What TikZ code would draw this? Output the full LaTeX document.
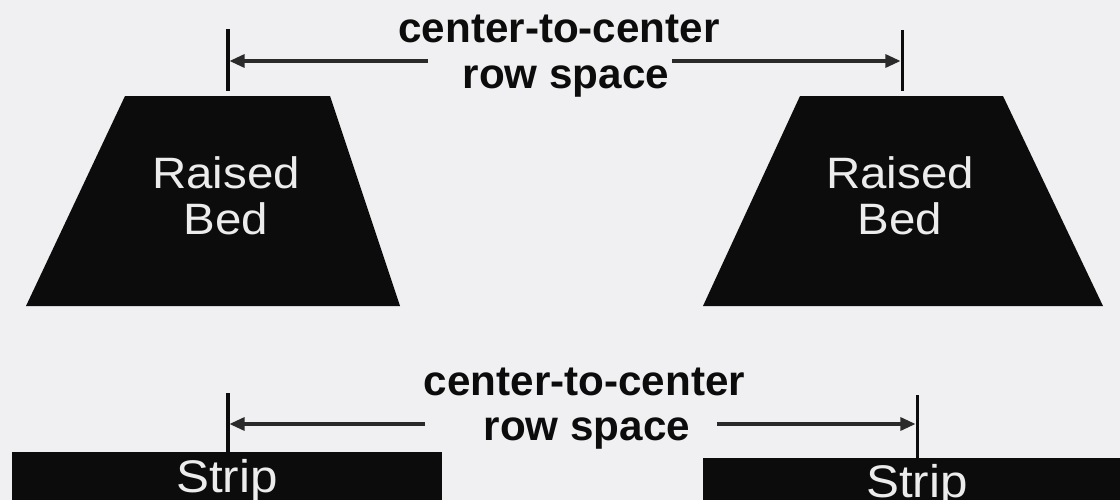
\documentclass[tikz,border=0pt]{standalone}
\usepackage{fontspec}
\setmainfont{Liberation Sans}
\newfontfamily\widesans[FakeStretch=1.08]{Liberation Sans}
\usetikzlibrary{arrows.meta}
\definecolor{bg}{HTML}{F0F0F2}
\definecolor{ink}{HTML}{0C0C0C}
\definecolor{wtext}{HTML}{ECECEC}
\definecolor{arrowc}{HTML}{2A2A2A}
\begin{document}
\begin{tikzpicture}[x=0.01cm,y=-0.01cm,
  bedshape/.style={fill=ink},
  lbl/.style={font=\fontsize{12}{14}\selectfont\bfseries, text=ink, anchor=base, inner sep=0},
  intext/.style={font=\widesans\fontsize{12.5}{14}\selectfont, text=wtext, anchor=base, inner sep=0},
  striptext/.style={font=\widesans\fontsize{13}{14}\selectfont, text=wtext, anchor=base, inner sep=0},
  tick/.style={draw=ink, line width=0.03cm},
  dimarrow/.style={draw=arrowc, line width=0.03cm, -{Triangle[length=0.15cm,width=0.13cm]}}]
\fill[bg] (0,0) rectangle (1120,500);
\useasboundingbox (0,0) rectangle (1120,500);
% raised beds
\fill[bedshape] (125,96) -- (330,96) -- (400,306) -- (26,306) -- cycle;
\fill[bedshape] (800,96) -- (1003,96) -- (1103,306) -- (703,306) -- cycle;
\node[intext] (r1a) at (226,189) {Raised};
\node[intext] (r1b) at (226,235) {Bed};
\node[intext] (r2a) at (900,189) {Raised};
\node[intext] (r2b) at (900,235) {Bed};
% top dimension
\coordinate (t1top) at (228,29);
\coordinate (t1bot) at (228,91);
\coordinate (t2top) at (902,30);
\coordinate (t2bot) at (902,91);
\draw[tick] (t1top) -- (t1bot);
\draw[tick] (t2top) -- (t2bot);
\coordinate (a1s) at (428,61);
\coordinate (a1e) at (229.5,61);
\coordinate (a2s) at (672,61);
\coordinate (a2e) at (900.5,61);
\draw[dimarrow] (a1s) -- (a1e);
\draw[dimarrow] (a2s) -- (a2e);
\node[lbl] (l1a) at (559,43) {center-to-center};
\node[lbl] (l1b) at (566,88) {row space};
% strips
\fill[bedshape] (12,452) rectangle (442,500);
\fill[bedshape] (703,458) rectangle (1120,500);
\node[striptext] (s1) at (227,492) {Strip};
\node[striptext] (s2) at (917,497) {Strip};
% bottom dimension
\coordinate (b1top) at (228,393);
\coordinate (b1bot) at (228,452);
\coordinate (b2top) at (917,395);
\coordinate (b2bot) at (917,458);
\draw[tick] (b1top) -- (b1bot);
\draw[tick] (b2top) -- (b2bot);
\coordinate (c1s) at (425,424);
\coordinate (c1e) at (229.5,424);
\coordinate (c2s) at (717,424);
\coordinate (c2e) at (915.5,424);
\draw[dimarrow] (c1s) -- (c1e);
\draw[dimarrow] (c2s) -- (c2e);
\node[lbl] (l2a) at (584.5,395) {center-to-center};
\node[lbl] (l2b) at (587,440) {row space};
\end{tikzpicture}
\end{document}
